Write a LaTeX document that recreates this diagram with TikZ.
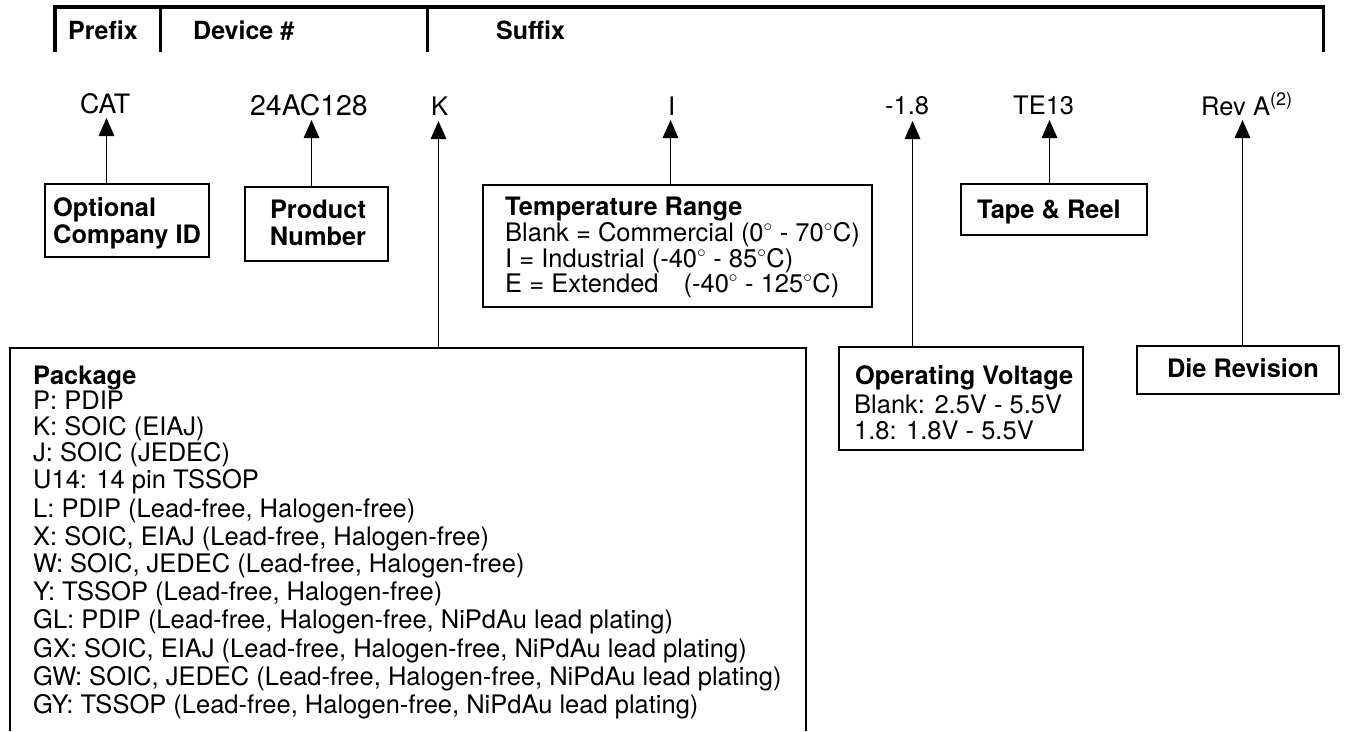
\documentclass[tikz,border=0pt]{standalone}
\usepackage{fontspec}
\setmainfont{TeX Gyre Heros}
\usetikzlibrary{arrows.meta}
\tikzset{
  lab/.style={anchor=base west,inner sep=0pt,font=\fontsize{25.5}{28}\selectfont},
  head/.style={anchor=base west,inner sep=0pt,font=\fontsize{25}{28}\selectfont\bfseries},
  ttl/.style={anchor=base west,inner sep=0pt,font=\fontsize{25.4}{28}\selectfont\bfseries},
  arr/.style={line width=1.5pt,-{Triangle[length=18pt,width=15.5pt]}},
  brk/.style={line width=3.6pt,line cap=butt},
}
\newcommand{\bx}[5]{\node[draw,line width=2.8pt,inner sep=0pt,outer sep=0pt,minimum width=#4pt-#2pt,minimum height=#5pt-#3pt] (#1) at ({(#2+#4)/2},{(#3+#5)/2}) {};}
\begin{document}
\begin{tikzpicture}[x=1pt,y=-1pt]
\useasboundingbox (0,0) rectangle (1348,731);
% header bracket
\coordinate (bl) at (55,52); \coordinate (bp) at (160.5,52); \coordinate (bd) at (427.5,52); \coordinate (br) at (1323.5,52);
\coordinate (bt) at (0,7);
\draw[brk] (bl) -- (bl |- bt);
\draw[brk] (bp) -- (bp |- bt);
\draw[brk] (bd) -- (bd |- bt);
\draw[brk] (br) -- (br |- bt);
\draw[line width=4.4pt] (53,7) -- (1325.3,7);
\node[head] (hp) at (68,39) {Prefix};
\node[head] (hd) at (193,39) {Device \#};
\node[head] (hs) at (496,39) {Suffix};
% part labels
\node[lab,font=\fontsize{26.7}{28}\selectfont] (cat) at (80,113) {CAT};
\node[lab,font=\fontsize{28.4}{28}\selectfont] (dev) at (250,115.5) {24AC128};
\node[lab] (k) at (431,115) {K};
\node[lab] (i) at (668,115) {I};
\node[lab] (v) at (885,114) {-1.8};
\node[lab] (te) at (1013,114) {TE13};
\node[lab] (rev) at (1201,115) {Rev A\raisebox{10pt}{\fontsize{18}{18}\selectfont (2)}};
% boxes
\bx{opt}{45}{184}{209}{257}
\bx{prod}{245}{187}{388}{261}
\bx{temp}{483}{185}{872}{307}
\bx{tape}{961}{184}{1147}{235}
\bx{volt}{839}{347}{1083}{450}
\bx{die}{1137}{346}{1339}{394}
\node[inner sep=0pt,outer sep=0pt,minimum width=796pt,minimum height=383pt] (pkg) at (408,539.5) {};
\draw[line width=2.8pt] (pkg.south west) -- (pkg.north west) -- (pkg.north east) -- (pkg.south east);
% arrows
\coordinate (tc) at (106.5,118); \coordinate (tp) at (311.5,120); \coordinate (tk) at (438.5,121);
\coordinate (ti) at (670.5,120); \coordinate (tv) at (912.5,121); \coordinate (tt) at (1049.5,120); \coordinate (tr) at (1242.5,120);
\draw[arr] (opt.north -| tc) -- (tc);
\draw[arr] (prod.north -| tp) -- (tp);
\draw[arr] (pkg.north -| tk) -- (tk);
\draw[arr] (temp.north -| ti) -- (ti);
\draw[arr] (volt.north -| tv) -- (tv);
\draw[arr] (tape.north -| tt) -- (tt);
\draw[arr] (die.north -| tr) -- (tr);
% box text
\node[ttl] (o1) at (53,216) {Optional};
\node[ttl] (o2) at (53,243) {Company ID};
\node[ttl,anchor=base] (p1) at (318,218) {Product};
\node[ttl,anchor=base] (p2) at (318,245) {Number};
\node[ttl] (t0) at (505,215) {Temperature Range};
\node[lab] (t1) at (505,241) {Blank = Commercial (0$^{\circ}$ - 70$^{\circ}$C)};
\node[lab] (t2) at (505,267) {I = Industrial (-40$^{\circ}$ - 85$^{\circ}$C)};
\node[lab] (t3) at (505,292) {E = Extended\hspace{25pt}(-40$^{\circ}$ - 125$^{\circ}$C)};
\node[ttl] (tp1) at (977,218) {Tape \& Reel};
\node[ttl] (v0) at (855,384) {Operating Voltage};
\node[lab] (v1) at (854,413) {Blank: 2.5V - 5.5V};
\node[lab] (v2) at (854,439) {1.8: 1.8V - 5.5V};
\node[ttl,anchor=base] (d0) at (1243,377) {Die Revision};
% package list
\node[ttl] (k0) at (33,384) {Package};
\node[lab] (k1) at (33,409) {P: PDIP};
\node[lab] (k2) at (33,435) {K: SOIC (EIAJ)};
\node[lab] (k3) at (33,461) {J: SOIC (JEDEC)};
\node[lab] (k4) at (33,488) {U14: 14 pin TSSOP};
\node[lab] (k5) at (33,517) {L: PDIP (Lead-free, Halogen-free)};
\node[lab] (k6) at (33,545) {X: SOIC, EIAJ (Lead-free, Halogen-free)};
\node[lab] (k7) at (33,572) {W: SOIC, JEDEC (Lead-free, Halogen-free)};
\node[lab] (k8) at (33,600) {Y: TSSOP (Lead-free, Halogen-free)};
\node[lab] (k9) at (33,628) {GL: PDIP (Lead-free, Halogen-free, NiPdAu lead plating)};
\node[lab] (k10) at (33,657) {GX: SOIC, EIAJ (Lead-free, Halogen-free, NiPdAu lead plating)};
\node[lab] (k11) at (33,685) {GW: SOIC, JEDEC (Lead-free, Halogen-free, NiPdAu lead plating)};
\node[lab] (k12) at (33,713) {GY: TSSOP (Lead-free, Halogen-free, NiPdAu lead plating)};
\end{tikzpicture}
\end{document}
